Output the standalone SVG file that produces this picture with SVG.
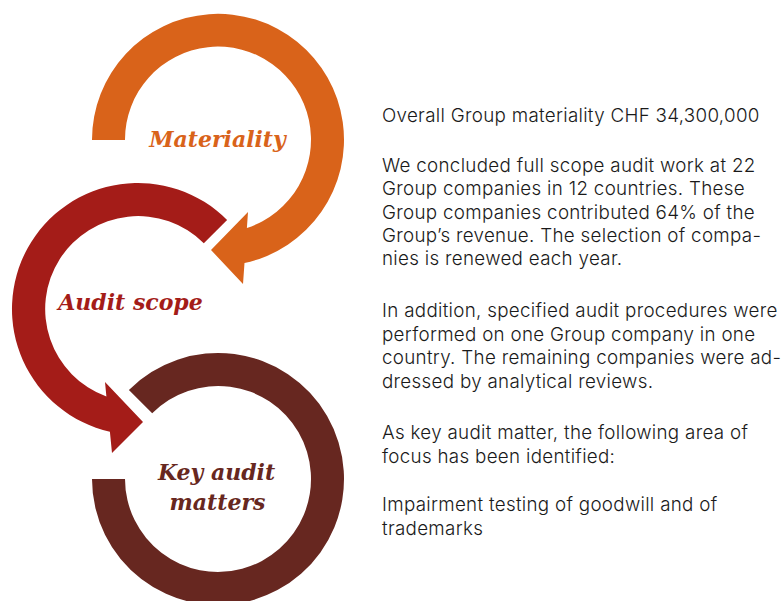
<svg xmlns="http://www.w3.org/2000/svg" width="782" height="601" viewBox="0 0 782 601">
  <style>
    .lbl { font-family: "DejaVu Serif", "Liberation Serif", serif; font-weight: bold; font-style: italic; font-size: 22px; text-anchor: middle; }
    .body { font-family: Inter, "Liberation Sans", sans-serif; font-weight: 300; font-size: 18.8px; letter-spacing: 0.3px; fill: #1a1a1a; }
  </style>
  <rect width="782" height="601" fill="#ffffff"/>
  <g id="connectors">
  </g>
  <g id="materiality">
    <path fill="#D9631A" d="M 92 140 A 126 126 0 1 1 244.5 263 L 243 284 L 211 250 L 248 212 L 246.9 228 A 93 93 0 1 0 125 140 Z"/>
    <text class="lbl" x="217.5" y="147" fill="#D9631A">Materiality</text>
  </g>
  <g id="audit-scope">
    <path fill="#A41C18" d="M 227.1 219.9 A 126 126 0 1 0 109.9 431.8 L 112 453 L 143 422 L 105 382 L 106.4 396.5 A 93 93 0 1 1 203.8 243.2 Z"/>
    <text class="lbl" x="130.5" y="310" fill="#A41C18">Audit scope</text>
  </g>
  <g id="key-audit-matters">
    <path fill="#672720" d="M 92 479 A 126 126 0 1 0 128.9 389.9 L 152.2 413.2 A 93 93 0 1 1 125 479 Z"/>
    <text class="lbl" fill="#672720"><tspan x="216.5" y="480">Key audit</tspan><tspan x="217.5" y="510">matters</tspan></text>
  </g>
  <g id="description">
    <text class="body">
      <tspan x="382" y="122">Overall Group materiality CHF 34,300,000</tspan>
      <tspan x="382" y="172">We concluded full scope audit work at 22</tspan>
      <tspan x="382" y="195">Group companies in 12 countries. These</tspan>
      <tspan x="382" y="218.5">Group companies contributed 64% of the</tspan>
      <tspan x="382" y="241.5">Group’s revenue. The selection of compa-</tspan>
      <tspan x="382" y="265">nies is renewed each year.</tspan>
      <tspan x="382" y="317">In addition, specified audit procedures were</tspan>
      <tspan x="382" y="340.5">performed on one Group company in one</tspan>
      <tspan x="382" y="364">country. The remaining companies were ad-</tspan>
      <tspan x="382" y="387.5">dressed by analytical reviews.</tspan>
      <tspan x="382" y="439">As key audit matter, the following area of</tspan>
      <tspan x="382" y="462.5">focus has been identified:</tspan>
      <tspan x="382" y="511">Impairment testing of goodwill and of</tspan>
      <tspan x="382" y="535">trademarks</tspan>
    </text>
  </g>
</svg>
